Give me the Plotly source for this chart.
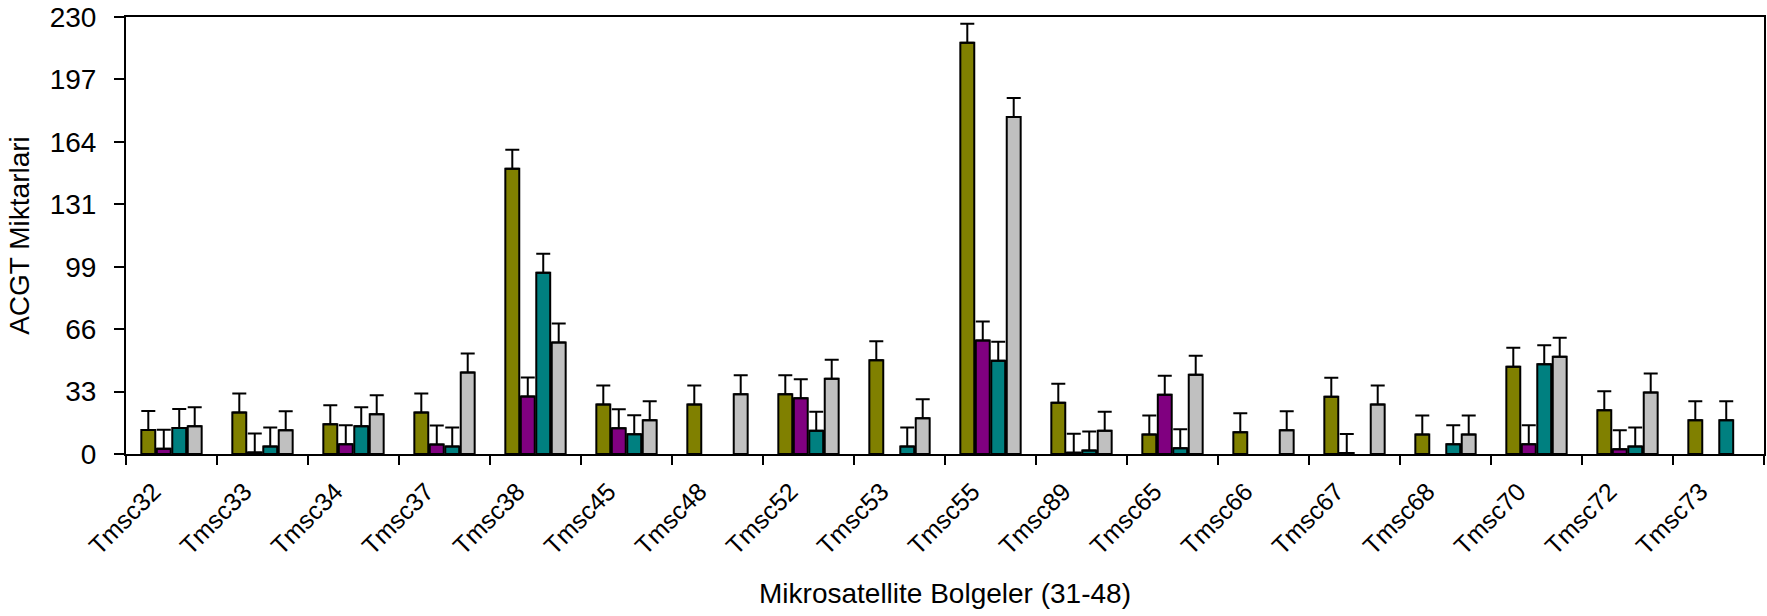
import plotly.graph_objects as go

# Microsatellite regions on the category axis
regions = ["Tmsc32", "Tmsc33", "Tmsc34", "Tmsc37", "Tmsc38", "Tmsc45",
           "Tmsc48", "Tmsc52", "Tmsc53", "Tmsc55", "Tmsc89", "Tmsc65",
           "Tmsc66", "Tmsc67", "Tmsc68", "Tmsc70", "Tmsc72", "Tmsc73"]

# Four series per region (None = no bar drawn)
series_a = [12.6, 21.9, 15.6, 21.8, 150.1, 26.1, 26.1, 31.4, 49.3, 216.4,
            27.0, 10.3, 11.4, 30.1, 10.3, 45.9, 23.0, 17.7]
series_c = [2.8, 0.8, 5.1, 5.0, 30.3, 13.5, None, 29.3, None, 59.7,
            0.7, 31.2, None, 0.5, None, 5.1, 2.5, None]
series_g = [13.7, 4.0, 14.6, 4.0, 95.4, 10.4, None, 12.3, 4.0, 49.1,
            1.9, 3.0, None, None, 5.1, 47.2, 3.9, 17.7]
series_t = [14.6, 12.5, 20.9, 42.9, 58.7, 17.7, 31.4, 39.6, 18.8, 177.4,
            12.3, 41.7, 12.5, 26.1, 10.3, 51.2, 32.4, None]

# Fixed upper error amount shown on every bar
error_amount = 10

y_tick_vals = [0, 230 / 7, 2 * 230 / 7, 3 * 230 / 7, 4 * 230 / 7,
               5 * 230 / 7, 6 * 230 / 7, 230]
y_tick_text = ["0", "33", "66", "99", "131", "164", "197", "230"]

colors = ["#808000", "#800080", "#008080", "#C0C0C0"]
all_series = [series_a, series_c, series_g, series_t]
names = ["A", "C", "G", "T"]

FONT = "Liberation Sans, Arial, sans-serif"

fig = go.Figure()
for name, vals, col in zip(names, all_series, colors):
    fig.add_trace(go.Bar(
        x=regions,
        y=vals,
        name=name,
        marker=dict(color=col, line=dict(color="black", width=2)),
        error_y=dict(type="constant", value=error_amount, symmetric=False,
                     valueminus=0, color="black", thickness=2, width=7),
        showlegend=False,
    ))

fig.update_layout(
    width=1767,
    height=616,
    barmode="group",
    bargap=0.32,
    bargroupgap=0.1,
    plot_bgcolor="white",
    paper_bgcolor="white",
    margin=dict(l=126, r=1, t=17, b=162),
    font=dict(family=FONT, color="black"),
)

fig.update_xaxes(
    type="category",
    tickson="boundaries",
    ticks="outside",
    ticklen=9,
    tickwidth=2,
    tickcolor="black",
    tickangle=-45,
    ticklabelstandoff=11,
    ticklabelshift=-18,
    tickfont=dict(size=25, family=FONT, color="black"),
    showline=True,
    linecolor="black",
    linewidth=2,
    mirror=True,
    showgrid=False,
    title=dict(text="Mikrosatellite Bolgeler (31-48)",
               font=dict(size=28, family=FONT, color="black"), standoff=25),
)

fig.update_yaxes(
    range=[0, 230],
    tickvals=y_tick_vals,
    ticktext=y_tick_text,
    ticks="outside",
    ticklen=10,
    tickwidth=2,
    tickcolor="black",
    ticklabelstandoff=12,
    tickfont=dict(size=28, family=FONT, color="black"),
    showline=True,
    linecolor="black",
    linewidth=2,
    mirror=True,
    showgrid=False,
    zeroline=False,
    title=dict(text="ACGT Miktarlari",
               font=dict(size=28, family=FONT, color="black"), standoff=12),
)

fig.write_html("out.html")
